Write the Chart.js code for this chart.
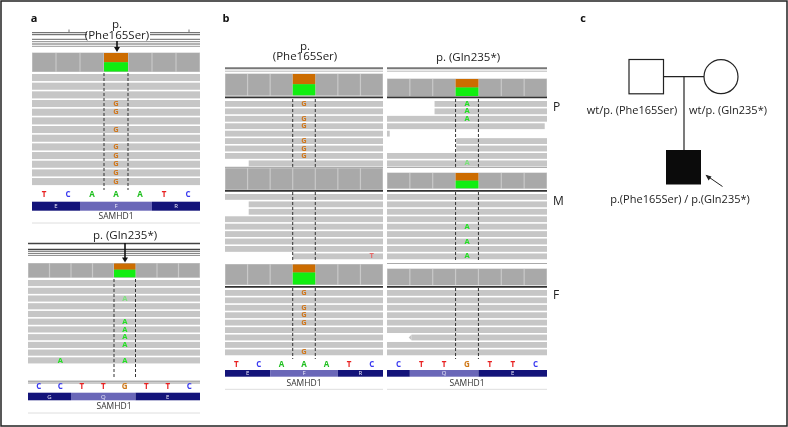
<!DOCTYPE html>
<html>
<head>
<meta charset="utf-8">
<script src="https://cdn.jsdelivr.net/npm/chart.js@4.4.1/dist/chart.umd.min.js"></script>
<style>
  html, body { margin: 0; padding: 0; background: #fff; }
  #fig { display: block; }
</style>
</head>
<body>
<canvas id="fig" width="788" height="427"></canvas>
<script>
// ---- data ----
const panelLabels = ['a', 'b', 'c'];
const variantPhe = ['p.', '(Phe165Ser)'];
const variantGln = 'p. (Gln235*)';
const sampleLabels = ['P', 'M', 'F'];
const geneName = 'SAMHD1';

// reference bases / amino acids in view (amino given as number of bases each codon covers in view)
const refPhe = ['T', 'C', 'A', 'A', 'A', 'T', 'C'];
const aaPhe = ['E', 'F', 'R'];
const aaPheBases = [2, 3, 2];
const refGlnA = ['C', 'C', 'T', 'T', 'G', 'T', 'T', 'C'];
const aaGlnA = ['G', 'Q', 'E'];
const aaGlnABases = [2, 3, 3];
const refGlnB = ['C', 'T', 'T', 'G', 'T', 'T', 'C'];
const aaGlnB = ['', 'Q', 'E'];
const aaGlnBBases = [1, 3, 3];

// share of the variant cell drawn orange (rest green)
const covFracA1 = 0.5, covFracA2 = 0.45;
const covFracB = { PL: 0.48, PR: 0.5, ML: 0, MR: 0.5, FL: 0.4, FR: 0 };

// reads: row count, rows carrying the variant base, clipped reads [row, firstBase, lastBase]
const readsA1 = { rows: 13, alt: [3, 4, 6, 8, 9, 10, 11, 12], faint: [], clips: [], other: [] };
const readsA2 = { rows: 11, alt: [5, 6, 7, 8, 10], faint: [2], clips: [], other: [[10, 1, 'A']] };
const readsB = {
  PL: { rows: 9, alt: [0, 2, 3, 5, 6, 7], faint: [], clips: [[8, 1.05, 7]], other: [] },
  PR: { rows: 9, alt: [0, 1, 2], faint: [8], clips: [[0, 2.08, 7], [1, 2.08, 7], [3, 0, 6.9], [4, 0, 0.12], [5, 3.03, 7], [6, 3.03, 7]], other: [] },
  ML: { rows: 9, alt: [], faint: [], clips: [[1, 1.05, 7], [2, 1.05, 7], [8, 3.0, 7]], other: [[8, 6, 'T']] },
  MR: { rows: 9, alt: [4, 6, 8], faint: [], clips: [], other: [] },
  FL: { rows: 9, alt: [0, 2, 3, 4, 8], faint: [], clips: [], other: [] },
  FR: { rows: 9, alt: [], faint: [], clips: [[6, 1.08, 7]], other: [] }
};

const pedigreeLabels = ['wt/p. (Phe165Ser)', 'wt/p. (Gln235*)', 'p.(Phe165Ser) / p.(Gln235*)'];

// ---- colours ----
const baseColor = { A: '#1fbf1f', C: '#3a3af0', G: '#d07a1a', T: '#e82020' };
const altColor = { A: '#22e022', G: '#d0781e', T: '#e86a6a' };
const FONT = '"Open Sans", "Noto Sans", sans-serif';

const figurePlugin = {
  id: 'igvFigure',
  afterDraw(chart) {
    const ctx = chart.ctx;
    const xs = chart.scales.x, ys = chart.scales.y;
    const X = v => xs.getPixelForValue(v);
    const Y = v => ys.getPixelForValue(v);

    function rect(x0, y0, x1, y1, color) {
      ctx.fillStyle = color;
      ctx.fillRect(X(x0), Y(y0), X(x1) - X(x0), Y(y1) - Y(y0));
    }
    function hline(x0, x1, y, color, w) {
      ctx.strokeStyle = color; ctx.lineWidth = w || 1; ctx.setLineDash([]);
      ctx.beginPath(); ctx.moveTo(X(x0), Y(y)); ctx.lineTo(X(x1), Y(y)); ctx.stroke();
    }
    function line(x0, y0, x1, y1, color, w, dash) {
      ctx.strokeStyle = color; ctx.lineWidth = w || 1; ctx.setLineDash(dash || []);
      ctx.beginPath(); ctx.moveTo(X(x0), Y(y0)); ctx.lineTo(X(x1), Y(y1)); ctx.stroke();
      ctx.setLineDash([]);
    }
    function text(s, x, y, font, color, align) {
      ctx.font = font; ctx.fillStyle = color || '#222';
      ctx.textAlign = align || 'center'; ctx.textBaseline = 'middle';
      ctx.fillText(s, X(x), Y(y));
    }
    function arrowDown(x, y0, y1) {
      line(x, y0, x, y1 - 4, '#111', 1.6);
      ctx.fillStyle = '#111';
      ctx.beginPath();
      ctx.moveTo(X(x - 3), Y(y1 - 5)); ctx.lineTo(X(x + 3), Y(y1 - 5)); ctx.lineTo(X(x), Y(y1));
      ctx.closePath(); ctx.fill();
    }

    function coverage(x0, x1, n, top, bottom, hi, frac) {
      const w = (x1 - x0) / n;
      rect(x0, top - 0.5, x1, bottom + 0.5, '#c9c9c9');
      for (let i = 0; i < n; i++) {
        rect(x0 + i * w + 0.6, top, x0 + (i + 1) * w - 0.6, bottom, '#a9a9a9');
      }
      if (hi >= 0 && frac > 0) {
        const mid = top + (bottom - top) * frac;
        rect(x0 + hi * w, top, x0 + (hi + 1) * w, mid, '#cc6c00');
        rect(x0 + hi * w, mid, x0 + (hi + 1) * w, bottom, '#11ee11');
      }
    }

    function reads(x0, x1, n, top, rowH, spec, hi, letter) {
      const w = (x1 - x0) / n;
      for (let r = 0; r < spec.rows; r++) {
        const clip = spec.clips.find(c => c[0] === r);
        const a = clip ? clip[1] : 0, b = clip ? clip[2] : n;
        const y0 = top + r * rowH, y1 = y0 + rowH - 1.6;
        rect(x0 + a * w, y0, x0 + b * w, y1, '#c6c6c6');
        if (clip && a > 0.5 && spec === readsB.FR) {
          // reverse-strand read tip
          ctx.fillStyle = '#c6c6c6';
          ctx.beginPath();
          ctx.moveTo(X(x0 + a * w), Y(y0)); ctx.lineTo(X(x0 + a * w - 3), Y((y0 + y1) / 2));
          ctx.lineTo(X(x0 + a * w), Y(y1)); ctx.closePath(); ctx.fill();
        }
      }
      const bold = 'bold 7.5px ' + FONT;
      spec.alt.forEach(r => text(letter, x0 + (hi + 0.5) * w, top + r * rowH + (rowH - 1.6) / 2, bold, altColor[letter]));
      spec.faint.forEach(r => text(letter, x0 + (hi + 0.5) * w, top + r * rowH + (rowH - 1.6) / 2, bold, '#7be07b'));
      spec.other.forEach(o => text(o[2], x0 + (o[1] + 0.5) * w, top + o[0] * rowH + (rowH - 1.6) / 2, bold, altColor[o[2]]));
    }

    function dashed(x0, x1, n, hi, yTop, yBot) {
      const w = (x1 - x0) / n;
      line(x0 + hi * w, yTop, x0 + hi * w, yBot, '#333', 1, [3, 2]);
      line(x0 + (hi + 1) * w, yTop, x0 + (hi + 1) * w, yBot, '#333', 1, [3, 2]);
    }

    function refAndGene(x0, x1, bases, aa, aaBases, yRef, aaTop, aaBot, yGene) {
      const n = bases.length, w = (x1 - x0) / n;
      bases.forEach((b, i) => text(b, x0 + (i + 0.5) * w, yRef, 'bold 8px ' + FONT, baseColor[b]));
      let pos = 0;
      aa.forEach((a, k) => {
        const c = k === 1 ? '#6a67b8' : '#14147a';
        rect(x0 + pos * w, aaTop, x0 + (pos + aaBases[k]) * w, aaBot, c);
        if (a) text(a, x0 + (pos + aaBases[k] / 2) * w, (aaTop + aaBot) / 2 + 0.3, '6px ' + FONT, '#e8e8f8');
        pos += aaBases[k];
      });
      text(geneName, (x0 + x1) / 2, yGene, '8.5px ' + FONT, '#333');
      hline(x0, x1, yGene + 6, '#dedede', 1);
    }

    ctx.save();
    ctx.fillStyle = '#fff';
    ctx.fillRect(0, 0, chart.width, chart.height);

    // outer frame
    ctx.strokeStyle = '#222'; ctx.lineWidth = 1.5;
    ctx.strokeRect(X(1), Y(1), X(787) - X(1), Y(426) - Y(1));

    // panel letters
    const bold11 = 'bold 11px ' + FONT;
    text(panelLabels[0], 34, 19, bold11, '#111');
    text(panelLabels[1], 226, 19, bold11, '#111');
    text(panelLabels[2], 583, 19, bold11, '#111');

    const f11t = '11.5px ' + FONT;

    // ===== panel a, Phe165Ser =====
    {
      const x0 = 32, x1 = 200, n = refPhe.length, hi = 3;
      hline(x0, x1, 32.7, '#555', 1);
      hline(x0, x1, 34.7, '#555', 1);
      line(69, 29.5, 69, 32.7, '#777', 1); line(189, 29.5, 189, 32.7, '#777', 1);
      hline(x0, x1, 39.3, '#666', 1);
      hline(x0, x1, 41.7, '#888', 1);
      hline(x0, x1, 44, '#666', 1); hline(x0, x1, 46.3, '#999', 1);
      rect(87, 29.5, 150, 40.5, '#fff');
      text(variantPhe[0], 117, 25, f11t, '#222');
      text(variantPhe[1], 117, 35.5, f11t, '#222');
      arrowDown(117, 41, 52);
      coverage(x0, x1, n, 53, 71.5, hi, covFracA1);
      reads(x0, x1, n, 74, 8.67, readsA1, hi, 'G');
      dashed(x0, x1, n, hi, 73, 190);
      refAndGene(x0, x1, refPhe, aaPhe, aaPheBases, 194.5, 201.7, 210.7, 217);
    }

    // ===== panel a, Gln235* =====
    {
      const x0 = 28, x1 = 200, n = refGlnA.length, hi = 4;
      text(variantGln, 125, 235.5, f11t, '#222');
      hline(x0, x1, 243.5, '#444', 1.4);
      hline(x0, x1, 249.3, '#444', 1.2); hline(x0, x1, 251.2, '#555', 1);
      hline(x0, x1, 253.4, '#777', 1); hline(x0, x1, 255.4, '#888', 1);
      arrowDown(125, 243, 262.5);
      coverage(x0, x1, n, 263.5, 277.3, hi, covFracA2);
      reads(x0, x1, n, 280, 7.73, readsA2, hi, 'A');
      dashed(x0, x1, n, hi, 279, 379);
      hline(x0, x1, 381.2, '#888', 1); hline(x0, x1, 383, '#999', 1);
      refAndGene(x0, x1, refGlnA, aaGlnA, aaGlnABases, 387, 392.7, 400.3, 407);
    }

    // ===== panel b =====
    {
      const L = [225, 383], R = [387, 547], n = 7, hi = 3, rowH = 7.43;
      text(variantPhe[0], 305, 46.7, f11t, '#222');
      text(variantPhe[1], 305, 57, f11t, '#222');
      text(variantGln, 468, 58, f11t, '#222');

      [L, R].forEach(c => {
        hline(c[0], c[1], 68.3, '#777', 2);
        hline(c[0], c[1], 71.2, '#bbb', 1);
      });

      // P
      coverage(L[0], L[1], n, 74, 95.3, hi, covFracB.PL);
      coverage(R[0], R[1], n, 79, 96, hi, covFracB.PR);
      hline(L[0], L[1], 97.3, '#333', 1.8); hline(R[0], R[1], 97.3, '#333', 1.8);
      reads(L[0], L[1], n, 101, rowH, readsB.PL, hi, 'G');
      reads(R[0], R[1], n, 101, rowH, readsB.PR, hi, 'A');
      dashed(L[0], L[1], n, hi, 99, 168); dashed(R[0], R[1], n, hi, 99, 168);
      hline(L[0], L[1], 167.3, '#999', 1); hline(R[0], R[1], 167.3, '#999', 1);

      // M
      coverage(L[0], L[1], n, 168.5, 189.5, -1, covFracB.ML);
      coverage(R[0], R[1], n, 173, 188.3, hi, covFracB.MR);
      hline(L[0], L[1], 190.8, '#333', 1.8); hline(R[0], R[1], 190.8, '#333', 1.8);
      reads(L[0], L[1], n, 194, rowH, readsB.ML, hi, 'G');
      reads(R[0], R[1], n, 194, rowH, readsB.MR, hi, 'A');
      dashed(L[0], L[1], n, hi, 192, 262); dashed(R[0], R[1], n, hi, 192, 262);
      hline(R[0], R[1], 263.5, '#aaa', 1);

      // F
      coverage(L[0], L[1], n, 264.5, 284.5, hi, covFracB.FL);
      coverage(R[0], R[1], n, 269, 285, -1, covFracB.FR);
      hline(L[0], L[1], 286.8, '#333', 1.8); hline(R[0], R[1], 286.8, '#333', 1.8);
      reads(L[0], L[1], n, 290, rowH, readsB.FL, hi, 'G');
      reads(R[0], R[1], n, 290, rowH, readsB.FR, hi, 'A');
      dashed(L[0], L[1], n, hi, 288, 359); dashed(R[0], R[1], n, hi, 288, 359);

      refAndGene(L[0], L[1], refPhe, aaPhe, aaPheBases, 364.3, 370, 376.7, 383.3);
      refAndGene(R[0], R[1], refGlnB, aaGlnB, aaGlnBBases, 364.3, 370, 376.7, 383.3);

      text(sampleLabels[0], 553, 108, '12px ' + FONT, '#222', 'left');
      text(sampleLabels[1], 553, 202, '12px ' + FONT, '#222', 'left');
      text(sampleLabels[2], 553, 296, '12px ' + FONT, '#222', 'left');
    }

    // ===== panel c, pedigree =====
    {
      ctx.strokeStyle = '#222'; ctx.lineWidth = 1.2;
      ctx.strokeRect(X(629), Y(59.5), X(663.5) - X(629), Y(93.8) - Y(59.5));
      ctx.beginPath();
      ctx.arc(X(721), Y(76.7), X(738) - X(721), 0, Math.PI * 2);
      ctx.stroke();
      line(663.5, 76.7, 704, 76.7, '#222', 1.2);
      line(684, 76.7, 684, 150, '#222', 1.2);
      rect(666, 150, 701, 184.5, '#0b0b0b');
      line(722.5, 186.5, 706.5, 175.5, '#222', 1);
      ctx.fillStyle = '#222';
      ctx.beginPath();
      ctx.moveTo(X(705.5), Y(174.8)); ctx.lineTo(X(711.5), Y(176.6)); ctx.lineTo(X(708.6), Y(180.6));
      ctx.closePath(); ctx.fill();
      const f11 = '11px ' + FONT;
      text(pedigreeLabels[0], 632, 111, f11, '#222');
      text(pedigreeLabels[1], 728, 111, f11, '#222');
      text(pedigreeLabels[2], 680, 200, f11, '#222');
    }
    ctx.restore();
  }
};

new Chart(document.getElementById('fig'), {
  type: 'scatter',
  data: { datasets: [{ data: [] }] },
  options: {
    responsive: false,
    animation: false,
    events: [],
    layout: { padding: 0 },
    plugins: { legend: { display: false }, tooltip: { enabled: false }, title: { display: false } },
    scales: {
      x: { type: 'linear', min: 0, max: 788, display: false },
      y: { type: 'linear', min: 0, max: 427, reverse: true, display: false }
    }
  },
  plugins: [figurePlugin]
});
</script>
</body>
</html>
